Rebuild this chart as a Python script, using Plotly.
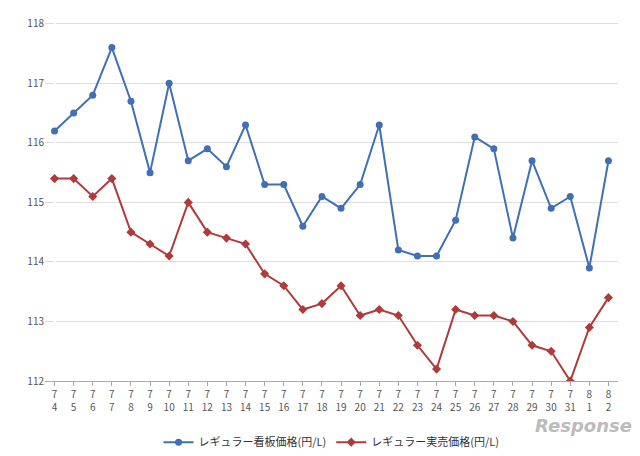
import plotly.graph_objects as go

months = [7]*28 + [8]*2
days = list(range(4, 32)) + [1, 2]
labels = [f"{m}<br>{d}" for m, d in zip(months, days)]
signboard = [116.2,116.5,116.8,117.6,116.7,115.5,117.0,115.7,115.9,115.6,116.3,115.3,115.3,114.6,115.1,114.9,115.3,116.3,114.2,114.1,114.1,114.7,116.1,115.9,114.4,115.7,114.9,115.1,113.9,115.7]
actual = [115.4,115.4,115.1,115.4,114.5,114.3,114.1,115.0,114.5,114.4,114.3,113.8,113.6,113.2,113.3,113.6,113.1,113.2,113.1,112.6,112.2,113.2,113.1,113.1,113.0,112.6,112.5,112.0,112.9,113.4]

x = list(range(len(labels)))
fig = go.Figure()
fig.add_trace(go.Scatter(x=x, y=signboard, mode="lines+markers", name="レギュラー看板価格(円/L)",
                         line=dict(color="#3f6fb5", width=2), marker=dict(symbol="circle", size=7)))
fig.add_trace(go.Scatter(x=x, y=actual, mode="lines+markers", name="レギュラー実売価格(円/L)",
                         line=dict(color="#b03a3a", width=2), marker=dict(symbol="diamond", size=7)))
fig.update_layout(
    width=640, height=456, plot_bgcolor="white", paper_bgcolor="white",
    margin=dict(l=37, r=30, t=7, b=75),
    font=dict(family="Noto Sans CJK JP", size=10, color="#555"),
    legend=dict(orientation="h", x=0.5, xanchor="center", y=-0.13, yanchor="top", font=dict(size=11, color="#333")),
    showlegend=True,
)
fig.update_xaxes(tickmode="array", tickvals=x, ticktext=labels, range=[-0.5, len(x)-0.5],
                 showgrid=False, showline=True, linecolor="#aaa", ticks="outside", ticklen=4, tickcolor="#aaa")
fig.update_yaxes(range=[112, 118.03], tickvals=[112,113,114,115,116,117,118], showgrid=True, gridcolor="#ddd",
                 zeroline=False, showline=False)
fig.add_annotation(text="<i><b>Response.</b></i>", xref="paper", yref="paper", x=1.04, y=-0.16,
                   xanchor="right", showarrow=False, font=dict(size=18, color="#bbb", family="DejaVu Sans"))
fig.write_html("out.html")
